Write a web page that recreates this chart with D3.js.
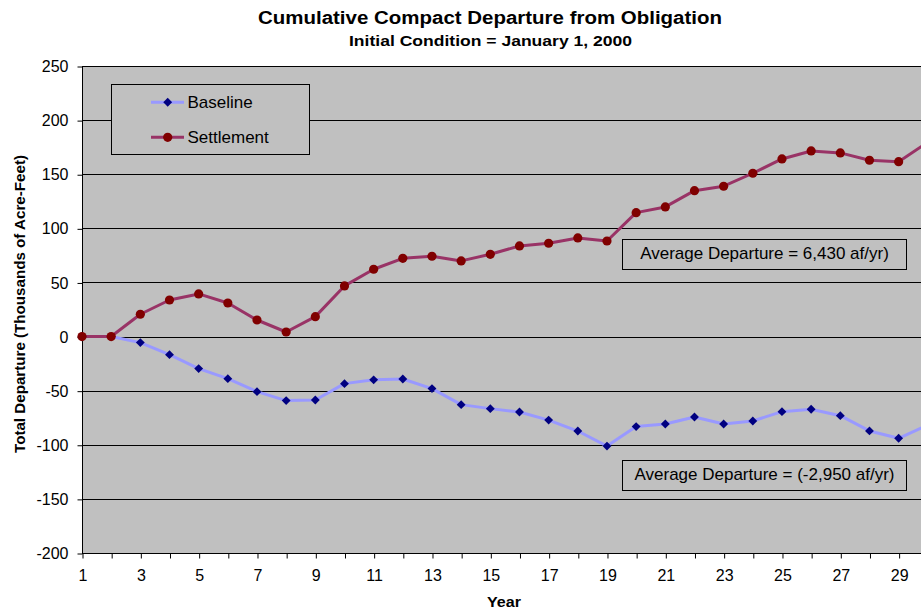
<!DOCTYPE html>
<html><head><meta charset="utf-8">
<script src="https://cdn.jsdelivr.net/npm/d3@7"></script>
<style>
body{margin:0;background:#fff}
svg{display:block}
text{font-family:"Liberation Sans",Arial,sans-serif;fill:#000}
</style>
</head><body>
<svg id="chart" width="921" height="612"></svg>
<script>
const years = [1,2,3,4,5,6,7,8,9,10,11,12,13,14,15,16,17,18,19,20,21,22,23,24,25,26,27,28,29,30];
const baseline = [0,0,-5.6,-16.7,-29.6,-38.9,-50.9,-59.2,-58.6,-43.5,-40,-39.2,-48.1,-62.9,-66.6,-69.7,-77.2,-87.3,-101.2,-83.2,-80.8,-74.3,-80.8,-78,-69.4,-67.2,-73.1,-87.2,-94,-81.7];
const settlement = [0,0,20.6,33.8,39.4,31,15.3,4.2,18.4,46.8,62.2,72.3,74.2,69.9,76,83.7,86.2,91.1,88.3,114.5,119.8,134.8,138.9,150.9,164.1,171.5,169.7,162.9,161.6,179.6];
const yTicks = [250,200,150,100,50,0,-50,-100,-150,-200];
const xTickLabels = [1,3,5,7,9,11,13,15,17,19,21,23,25,27,29];
const seriesNames = ["Baseline","Settlement"];
const notes = ["Average Departure = 6,430 af/yr)","Average Departure = (-2,950 af/yr)"];
const noteValues = [76.1, -127.6];
const titleText = "Cumulative Compact Departure from Obligation";
const subtitleText = "Initial Condition = January 1, 2000";

(function(){
const svg = d3.select("#chart");
const W = 921;
const pLeft = 82, pTop = 66, pBottom = 553;
const FONT = "Liberation Sans, Arial, sans-serif";

const x = d3.scaleLinear().domain([1,30]).range([pLeft, 927.8]);
const y = d3.scaleLinear().domain([-200,250]).range([pBottom, pTop]);

svg.append("rect").attr("x", pLeft).attr("y", pTop).attr("width", W-pLeft).attr("height", pBottom-pTop).attr("fill", "#C0C0C0");

svg.append("g").selectAll("line").data(yTicks).join("line")
  .attr("x1", pLeft).attr("x2", W)
  .attr("y1", d => Math.round(y(d))+0.5).attr("y2", d => Math.round(y(d))+0.5)
  .attr("stroke", "#000").attr("stroke-width", 1);

const yAxis = d3.axisLeft(y).tickValues(yTicks).tickSize(5).tickPadding(9).tickFormat(d => String(d));
const gy = svg.append("g").attr("transform", `translate(${pLeft+0.5},0.5)`).call(yAxis);
gy.select(".domain").attr("stroke", "#000").attr("d", `M0,${pTop}V${pBottom}`);
gy.selectAll(".tick line").attr("stroke", "#000");
gy.selectAll(".tick text").attr("font-size", 16).attr("font-family", FONT).attr("fill", "#000");

const xAxis = d3.axisBottom(x).tickValues(years).tickSize(5).tickPadding(11)
  .tickFormat(d => xTickLabels.includes(d) ? String(d) : "");
const gx = svg.append("g").attr("transform", `translate(0.5,${pBottom+0.5})`).call(xAxis);
gx.select(".domain").attr("stroke", "#000").attr("d", `M${pLeft},0H${W}`);
gx.selectAll(".tick line").attr("stroke", "#000");
gx.selectAll(".tick text").attr("font-size", 16).attr("font-family", FONT).attr("fill", "#000");

const line = d3.line().x((d,i) => x(years[i])).y(d => y(d));
svg.append("path").datum(baseline).attr("d", line).attr("fill", "none").attr("stroke", "#9999FF").attr("stroke-width", 3).attr("stroke-linejoin", "round");
svg.append("path").datum(settlement).attr("d", line).attr("fill", "none").attr("stroke", "#993366").attr("stroke-width", 3).attr("stroke-linejoin", "round");

const diamond = d3.symbol().type(d3.symbolDiamond2).size(50);
svg.append("g").selectAll("path").data(baseline).join("path")
  .attr("d", diamond)
  .attr("transform", (d,i) => `translate(${x(years[i])},${y(d)})`)
  .attr("fill", "#000080");
svg.append("g").selectAll("circle").data(settlement).join("circle")
  .attr("cx", (d,i) => x(years[i])).attr("cy", d => y(d)).attr("r", 4.6)
  .attr("fill", "#800000");

const lg = svg.append("g");
lg.append("rect").attr("x", 111.5).attr("y", 84.5).attr("width", 198).attr("height", 70)
  .attr("fill", "#C0C0C0").attr("stroke", "#000");
const legendRows = [
  {name: seriesNames[0], stroke: "#9999FF", fill: "#000080", type: "diamond", cy: 102.3},
  {name: seriesNames[1], stroke: "#993366", fill: "#800000", type: "circle", cy: 137.3}
];
legendRows.forEach(r => {
  lg.append("line").attr("x1", 151).attr("x2", 184).attr("y1", r.cy).attr("y2", r.cy)
    .attr("stroke", r.stroke).attr("stroke-width", 3);
  if (r.type === "diamond") {
    lg.append("path").attr("d", diamond).attr("transform", `translate(167.7,${r.cy})`).attr("fill", r.fill);
  } else {
    lg.append("circle").attr("cx", 167.7).attr("cy", r.cy).attr("r", 4.6).attr("fill", r.fill);
  }
  lg.append("text").attr("x", 187.5).attr("y", r.cy + 6).attr("font-size", 17).text(r.name);
});

notes.forEach((t, i) => {
  const cy = y(noteValues[i]);
  const g = svg.append("g");
  g.append("rect").attr("x", 622.5).attr("y", Math.round(cy - 15) + 0.5).attr("width", 284).attr("height", 30)
    .attr("fill", "#C0C0C0").attr("stroke", "#000");
  g.append("text").attr("x", 764.5).attr("y", cy + 5).attr("text-anchor", "middle").attr("font-size", 17).text(t);
});

svg.append("text").attr("x", 490).attr("y", 24).attr("text-anchor", "middle")
  .attr("font-size", 18).attr("font-weight", "bold")
  .attr("textLength", 464).attr("lengthAdjust", "spacingAndGlyphs").text(titleText);
svg.append("text").attr("x", 490.5).attr("y", 46).attr("text-anchor", "middle")
  .attr("font-size", 15).attr("font-weight", "bold")
  .attr("textLength", 283).attr("lengthAdjust", "spacingAndGlyphs").text(subtitleText);
svg.append("text").attr("transform", "translate(25,304) rotate(-90)").attr("text-anchor", "middle")
  .attr("font-size", 14).attr("font-weight", "bold")
  .attr("textLength", 298).attr("lengthAdjust", "spacingAndGlyphs").text("Total Departure (Thousands of Acre-Feet)");
svg.append("text").attr("x", 504).attr("y", 607).attr("text-anchor", "middle")
  .attr("font-size", 15).attr("font-weight", "bold")
  .attr("textLength", 34).attr("lengthAdjust", "spacingAndGlyphs").text("Year");
})();
</script>
</body></html>
